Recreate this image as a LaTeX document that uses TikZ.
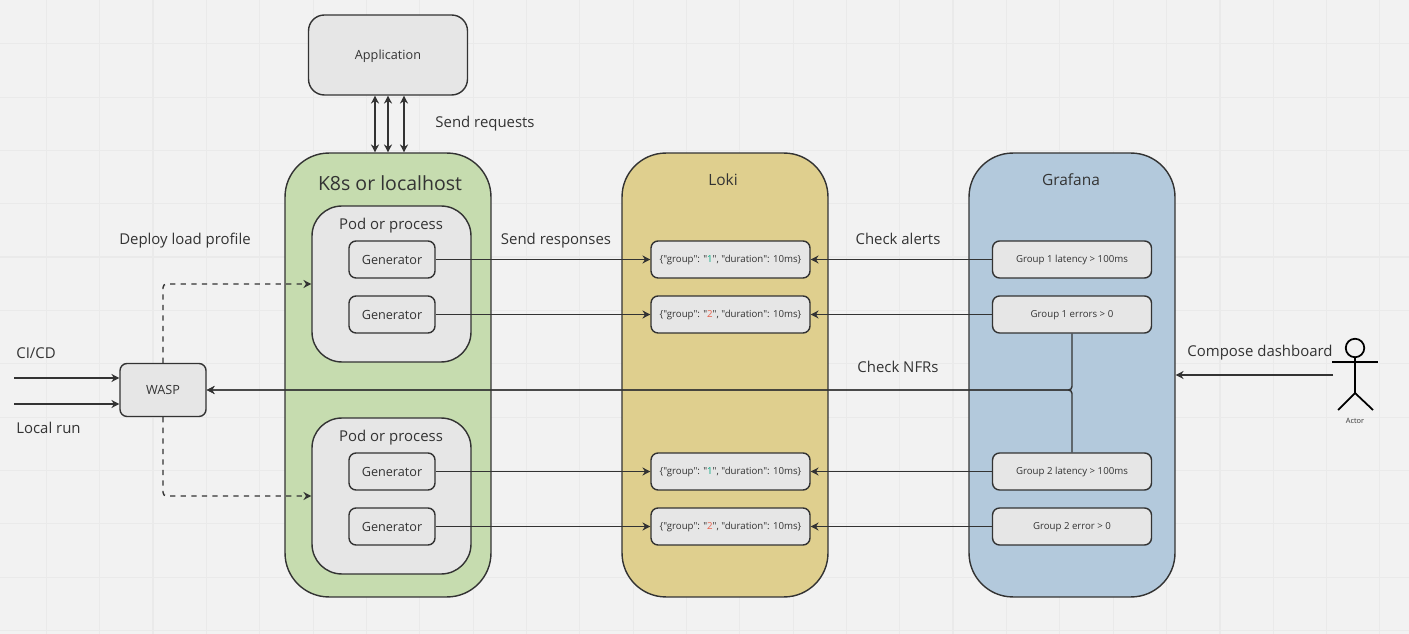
\documentclass[tikz,border=0pt]{standalone}
\usepackage{fontspec}
\setmainfont{Open Sans}[Ligatures=TeXOff]
\usetikzlibrary{arrows.meta}
\definecolor{bggrey}{HTML}{F2F2F2}
\definecolor{gridgrey}{HTML}{EAEAEA}
\definecolor{boxgrey}{HTML}{E6E6E6}
\definecolor{inkgrey}{HTML}{333333}
\definecolor{k8sgreen}{HTML}{C6DCAF}
\definecolor{lokiyellow}{HTML}{DFCF8E}
\definecolor{grafanablue}{HTML}{B3C9DC}
\definecolor{groupone}{HTML}{00A87E}
\definecolor{grouptwo}{HTML}{E8604C}
\tikzset{
  panel/.style={draw=inkgrey, line width=0.8pt, rounded corners=25pt, minimum width=4.12cm, minimum height=8.88cm, inner sep=0pt},
  podbox/.style={draw=inkgrey, line width=0.8pt, fill=boxgrey, rounded corners=17pt, minimum width=3.18cm, minimum height=3.12cm, inner sep=0pt},
  genbox/.style={draw=inkgrey, line width=0.8pt, fill=boxgrey, rounded corners=4pt, minimum width=1.72cm, minimum height=0.74cm, inner sep=0pt, text=inkgrey, text height=1.1ex, text depth=0.1ex, font=\fontsize{7.2}{9}\selectfont},
  logbox/.style={genbox, minimum width=3.18cm, text height=0.7ex, font=\fontsize{5.5}{8}\selectfont},
  alertbox/.style={logbox, font=\fontsize{5.5}{8}\selectfont},
  caption/.style={text=inkgrey, inner sep=0pt, text height=1.1ex, text depth=0.1ex, font=\fontsize{8.5}{11}\selectfont},
  link/.style={->, draw=inkgrey, line width=0.8pt},
}
\begin{document}
\begin{tikzpicture}[x=0.02cm, y=-0.02cm, >={Stealth[length=4.5pt,width=4.6pt]}]
  \useasboundingbox (0,0) rectangle (1409,634);
  \fill[bggrey] (0,0) rectangle (1409,634);

  % Background grid
  \foreach \gx in {-7,46.3,99.7,206.3,259.7,313,366.3,473,526.3,579.7,633,739.7,793,846.3,899.7,1006.3,1059.7,1113,1166.3,1273,1326.3,1379.7}
    \draw[gridgrey, line width=0.5pt] (\gx,0) -- (\gx,634);
  \foreach \gx in {153,419.7,686.3,953,1219.7}
    \draw[gridgrey, line width=0.9pt] (\gx,0) -- (\gx,634);
  \foreach \gy in {43.7,97,150.4,203.7,310.3,363.7,417,470.3,577,630.3}
    \draw[gridgrey, line width=0.5pt] (0,\gy) -- (1409,\gy);
  \foreach \gy in {257,523.7}
    \draw[gridgrey, line width=0.9pt] (0,\gy) -- (1409,\gy);

  % Application
  \node[genbox, rounded corners=9pt, minimum width=3.18cm, minimum height=1.6cm] (app) at (388,55) {Application};

  % Panels
  \node[panel, fill=k8sgreen] (k8s) at (388,375) {};
  \node[panel, fill=lokiyellow] (loki) at (725,375) {};
  \node[panel, fill=grafanablue] (grafana) at (1072,375) {};
  \node[caption, font=\fontsize{11.1}{14}\selectfont] (k8stitle) at (390,186) {K8s or localhost};
  \node[caption, font=\fontsize{8.8}{11}\selectfont] (lokititle) at (723,181) {Loki};
  \node[caption, font=\fontsize{8.8}{11}\selectfont] (grafanatitle) at (1071,181) {Grafana};

  % Pods
  \node[podbox] (podone) at (391.5,284) {};
  \node[podbox] (podtwo) at (391.5,496) {};
  \node[caption] (podonetitle) at (391,225) {Pod or process};
  \node[caption] (podtwotitle) at (391,437) {Pod or process};
  \node[genbox] (genone) at (392,259.5) {Generator};
  \node[genbox] (gentwo) at (392,314.5) {Generator};
  \node[genbox] (genthree) at (392,471.5) {Generator};
  \node[genbox] (genfour) at (392,526.5) {Generator};

  % Log lines
  \node[logbox] (logone) at (730.5,259.5) {\{"group": "\textcolor{groupone}{1}", "duration": 10ms\}};
  \node[logbox] (logtwo) at (730.5,314.5) {\{"group": "\textcolor{grouptwo}{2}", "duration": 10ms\}};
  \node[logbox] (logthree) at (730.5,471.5) {\{"group": "\textcolor{groupone}{1}", "duration": 10ms\}};
  \node[logbox] (logfour) at (730.5,526.5) {\{"group": "\textcolor{grouptwo}{2}", "duration": 10ms\}};

  % Alerts
  \node[alertbox] (alertone) at (1072,259.5) {Group 1 latency > 100ms};
  \node[alertbox] (alerttwo) at (1072,314.5) {Group 1 errors > 0};
  \node[alertbox] (alertthree) at (1072,471.5) {Group 2 latency > 100ms};
  \node[alertbox] (alertfour) at (1072,526.5) {Group 2 error > 0};

  % WASP
  \node[genbox, minimum height=1.06cm] (wasp) at (163,390) {WASP};

  % Actor
  \draw[black, line width=1pt] (1355,348) circle[radius=0.185cm];
  \draw[black, line width=1pt] (1332,362) -- (1378,362);
  \draw[black, line width=1pt] (1355,357) -- (1355,393);
  \draw[black, line width=1pt] (1338,410) -- (1355,393) -- (1373,410);
  \node[caption, font=\fontsize{4.2}{5}\selectfont] (actor) at (1355,419) {Actor};

  % Free ends
  \coordinate (cicd) at (14,378);
  \coordinate (localrun) at (14,404);
  \coordinate (compose) at (1333,375);

  % Requests
  \draw[link, <->] ([xshift=-0.26cm]app.south) -- ([xshift=-0.26cm]k8s.north);
  \draw[link, <->] (app.south) -- (k8s.north);
  \draw[link, <->] ([xshift=0.32cm]app.south) -- ([xshift=0.32cm]k8s.north);

  % Generators to Loki
  \draw[link] (genone) -- (logone);
  \draw[link] (gentwo) -- (logtwo);
  \draw[link] (genthree) -- (logthree);
  \draw[link] (genfour) -- (logfour);

  % Grafana to Loki
  \draw[link] (alertone) -- (logone);
  \draw[link] (alerttwo) -- (logtwo);
  \draw[link] (alertthree) -- (logthree);
  \draw[link] (alertfour) -- (logfour);

  % WASP links
  \draw[link] (cicd) -- (wasp.west |- cicd);
  \draw[link] (localrun) -- (wasp.west |- localrun);
  \draw[link, dashed, rounded corners=2pt] (wasp.north) |- (podone.west);
  \draw[link, dashed, rounded corners=2pt] (wasp.south) |- (podtwo.west);
  \draw[link, rounded corners=2pt] (alerttwo.south) |- (wasp.east);
  \draw[link, rounded corners=2pt] (alertthree.north) |- (wasp.east);
  \draw[link] (compose) -- (grafana.east |- compose);

  % Labels
  \node[caption, anchor=west] (cicdlabel) at (16,354) {CI/CD};
  \node[caption, anchor=west] (localrunlabel) at (16,429) {Local run};
  \node[caption] (deploylabel) at (185,240) {Deploy load profile};
  \node[caption] (requestslabel) at (485,123) {Send requests};
  \node[caption] (responseslabel) at (556,240) {Send responses};
  \node[caption] (alertslabel) at (898,240) {Check alerts};
  \node[caption] (nfrlabel) at (898,368) {Check NFRs};
  \node[caption] (composelabel) at (1260,352) {Compose dashboard};
\end{tikzpicture}
\end{document}
